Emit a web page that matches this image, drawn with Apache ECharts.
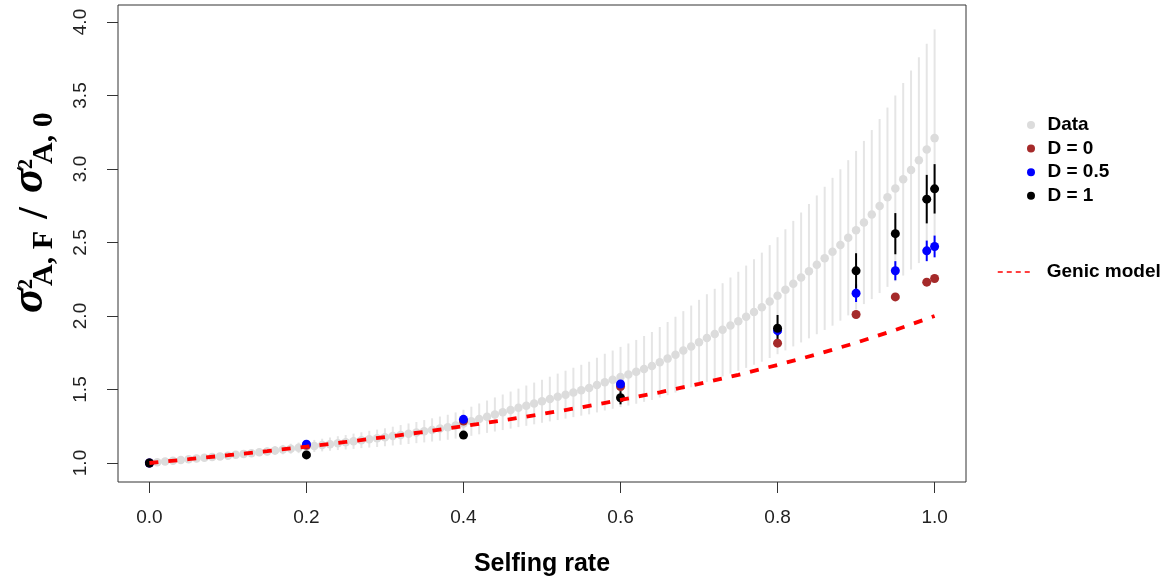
<!DOCTYPE html>
<html>
<head>
<meta charset="utf-8">
<script src="https://cdn.jsdelivr.net/npm/echarts@6/dist/echarts.min.js"></script>
<style>
  html, body { margin: 0; padding: 0; background: #fff; }
  #chart { width: 1172px; height: 583px; }
</style>
</head>
<body>
<div id="chart"></div>
<script>
// ---- data ----
const selfing = [0.00,0.01,0.02,0.03,0.04,0.05,0.06,0.07,0.08,0.09,
  0.10,0.11,0.12,0.13,0.14,0.15,0.16,0.17,0.18,0.19,
  0.20,0.21,0.22,0.23,0.24,0.25,0.26,0.27,0.28,0.29,
  0.30,0.31,0.32,0.33,0.34,0.35,0.36,0.37,0.38,0.39,
  0.40,0.41,0.42,0.43,0.44,0.45,0.46,0.47,0.48,0.49,
  0.50,0.51,0.52,0.53,0.54,0.55,0.56,0.57,0.58,0.59,
  0.60,0.61,0.62,0.63,0.64,0.65,0.66,0.67,0.68,0.69,
  0.70,0.71,0.72,0.73,0.74,0.75,0.76,0.77,0.78,0.79,
  0.80,0.81,0.82,0.83,0.84,0.85,0.86,0.87,0.88,0.89,
  0.90,0.91,0.92,0.93,0.94,0.95,0.96,0.97,0.98,0.99,
  1.00];
const dataMean = [1.000,1.005,1.010,1.015,1.020,1.025,1.030,1.035,1.040,1.045,
  1.050,1.056,1.062,1.067,1.073,1.079,1.085,1.091,1.097,1.103,
  1.110,1.116,1.122,1.128,1.135,1.141,1.148,1.155,1.162,1.168,
  1.175,1.183,1.191,1.199,1.207,1.216,1.225,1.234,1.243,1.255,
  1.268,1.284,1.300,1.315,1.330,1.345,1.360,1.375,1.390,1.405,
  1.420,1.435,1.450,1.465,1.480,1.495,1.510,1.530,1.550,1.567,
  1.585,1.602,1.620,1.640,1.660,1.685,1.710,1.737,1.765,1.793,
  1.822,1.850,1.878,1.906,1.935,1.964,1.995,2.027,2.060,2.098,
  2.138,2.178,2.220,2.262,2.305,2.348,2.392,2.437,2.483,2.532,
  2.583,2.636,2.690,2.748,2.808,2.868,2.930,2.993,3.060,3.132,
  3.210];
const dataErr = [0.000,0.002,0.004,0.005,0.007,0.009,0.011,0.012,0.014,0.016,
  0.018,0.020,0.022,0.023,0.026,0.028,0.030,0.032,0.034,0.036,
  0.039,0.041,0.043,0.045,0.047,0.049,0.052,0.054,0.057,0.059,
  0.061,0.064,0.067,0.070,0.072,0.076,0.079,0.082,0.085,0.089,
  0.094,0.099,0.105,0.110,0.116,0.121,0.126,0.131,0.137,0.142,
  0.147,0.152,0.158,0.163,0.168,0.173,0.179,0.186,0.193,0.198,
  0.205,0.211,0.217,0.224,0.231,0.240,0.249,0.258,0.268,0.278,
  0.288,0.298,0.307,0.317,0.327,0.337,0.348,0.359,0.371,0.384,
  0.398,0.412,0.427,0.442,0.457,0.472,0.487,0.503,0.515,0.528,
  0.540,0.555,0.575,0.592,0.610,0.632,0.655,0.677,0.700,0.720,
  0.740];

const modelS = [0.0, 0.2, 0.4, 0.6, 0.8, 0.9, 0.95, 0.99, 1.0];
const d0Mean  = [1.000, 1.120, 1.285, 1.520, 1.815, 2.010, 2.130, 2.230, 2.255];
const d0Err   = [0.000, 0.010, 0.010, 0.020, 0.020, 0.020, 0.020, 0.020, 0.020];
const d05Mean = [1.000, 1.128, 1.297, 1.537, 1.900, 2.155, 2.308, 2.443, 2.473];
const d05Err  = [0.000, 0.010, 0.010, 0.030, 0.035, 0.060, 0.065, 0.070, 0.074];
const d1Mean  = [1.000, 1.055, 1.190, 1.444, 1.917, 2.307, 2.560, 2.795, 2.865];
const d1Err   = [0.000, 0.010, 0.010, 0.045, 0.090, 0.120, 0.140, 0.165, 0.168];

const genicS = [0.00,0.05,0.10,0.15,0.20,0.25,0.30,0.35,0.40,0.45,0.50,
  0.55,0.60,0.65,0.70,0.75,0.80,0.85,0.90,0.95,1.00];
const genicVal = [1.000,1.026,1.053,1.081,1.111,1.143,1.176,1.212,1.250,1.290,1.333,
  1.379,1.429,1.481,1.538,1.600,1.667,1.739,1.818,1.905,2.000];

const xTicks = [0.0, 0.2, 0.4, 0.6, 0.8, 1.0];
const yTicks = [1.0, 1.5, 2.0, 2.5, 3.0, 3.5, 4.0];
const legendNames = ['Data', 'D = 0', 'D = 0.5', 'D = 1'];
const genicName = 'Genic model';
const xTitle = 'Selfing rate';

// ---- helpers ----
const SANS = '"Liberation Sans", Arial, sans-serif';
const SERIF = '"Liberation Serif", "Times New Roman", serif';

function pts(xs, ys) { return xs.map((x, i) => [x, ys[i]]); }
function bars(xs, ys, es) { return xs.map((x, i) => [x, ys[i] - es[i], ys[i] + es[i]]); }
function barSeries(name, data, color, width) {
  return {
    name: name, type: 'custom', data: data, silent: true,
    renderItem: function (params, api) {
      const a = api.coord([api.value(0), api.value(1)]);
      const b = api.coord([api.value(0), api.value(2)]);
      return { type: 'line', shape: { x1: a[0], y1: a[1], x2: b[0], y2: b[1] },
               style: { stroke: color, lineWidth: width } };
    }
  };
}
function dotSeries(name, data, color, size) {
  return { name: name, type: 'scatter', data: data, symbol: 'circle', symbolSize: size,
           itemStyle: { color: color, opacity: 1 }, emphasis: { disabled: true } };
}

const chart = echarts.init(document.getElementById('chart'), null, { renderer: 'canvas' });

const option = {
  animation: false,
  backgroundColor: '#ffffff',
  grid: { left: 118, top: 5, width: 848, height: 477, show: true,
          borderColor: '#333', borderWidth: 1, backgroundColor: 'transparent' },
  xAxis: {
    type: 'value', min: -0.04, max: 1.04,
    axisLine: { show: false, onZero: false },
    axisTick: { show: true, length: 11, customValues: xTicks, lineStyle: { color: '#333', width: 1 } },
    axisLabel: { customValues: xTicks, formatter: v => v.toFixed(1), margin: 26,
                 fontSize: 19, color: '#222', fontFamily: SANS },
    splitLine: { show: false },
    name: xTitle, nameLocation: 'middle', nameGap: 70,
    nameTextStyle: { fontSize: 25, fontWeight: 'bold', color: '#000', fontFamily: SANS }
  },
  yAxis: {
    type: 'value', min: 0.8707, max: 4.1156,
    axisLine: { show: false, onZero: false },
    axisTick: { show: true, length: 11, customValues: yTicks, lineStyle: { color: '#333', width: 1 } },
    axisLabel: { customValues: yTicks, formatter: v => v.toFixed(1), margin: 28, rotate: 90,
                 align: 'center', verticalAlign: 'bottom',
                 fontSize: 19, color: '#222', fontFamily: SANS },
    splitLine: { show: false }
  },
  legend: [
    {
      data: legendNames, orient: 'vertical', left: 1022, top: 110,
      itemWidth: 23, itemHeight: 8, itemGap: 3.6, icon: 'circle',
      selectedMode: false,
      textStyle: { fontSize: 19, fontWeight: 'bold', color: '#000', fontFamily: SANS, lineHeight: 20 }
    },
    {
      data: [genicName], orient: 'vertical', left: 992, top: 257,
      itemWidth: 36, itemHeight: 10, selectedMode: false,
      itemStyle: { opacity: 0 },
      lineStyle: { color: '#ff0000', width: 1.5, type: [5, 4], opacity: 1 },
      textStyle: { fontSize: 19, fontWeight: 'bold', color: '#000', fontFamily: SANS,
                   lineHeight: 20, padding: [0, 0, 0, 8] }
    }
  ],
  graphic: [
    {
      type: 'group', x: 38, y: 313, rotation: Math.PI / 2, silent: true,
      children: [
        { type: 'text', x: 0, y: -8, style: { text: 'σ', font: 'italic bold 46px ' + SERIF, fill: '#000', verticalAlign: 'middle', align: 'left' } },
        { type: 'text', x: 24, y: -11, style: { text: '2', font: 'bold 20px ' + SERIF, fill: '#000', verticalAlign: 'middle', align: 'left' } },
        { type: 'text', x: 27, y: 6.5, style: { text: 'A, F', font: 'bold 30px ' + SERIF, fill: '#000', verticalAlign: 'middle', align: 'left' } },
        { type: 'text', x: 100, y: -1.5, style: { text: '/', font: 'bold 42px ' + SERIF, fill: '#000', verticalAlign: 'middle', align: 'center' } },
        { type: 'text', x: 120, y: -8, style: { text: 'σ', font: 'italic bold 46px ' + SERIF, fill: '#000', verticalAlign: 'middle', align: 'left' } },
        { type: 'text', x: 144, y: -11, style: { text: '2', font: 'bold 20px ' + SERIF, fill: '#000', verticalAlign: 'middle', align: 'left' } },
        { type: 'text', x: 149, y: 6.5, style: { text: 'A, 0', font: 'bold 30px ' + SERIF, fill: '#000', verticalAlign: 'middle', align: 'left' } }
      ]
    }
  ],
  series: [
    barSeries('Data bars', bars(selfing, dataMean, dataErr), '#e5e5e5', 2),
    dotSeries('Data', pts(selfing, dataMean), '#dcdcdc', 8.5),
    {
      name: genicName, type: 'line', data: pts(genicS, genicVal), symbol: 'none', smooth: false,
      itemStyle: { color: '#ff0000' },
      lineStyle: { color: '#ff0000', width: 3.8, type: [9, 10], cap: 'butt' },
      emphasis: { disabled: true }
    },
    barSeries('D = 0 bars', bars(modelS, d0Mean, d0Err), '#a52a2a', 2),
    dotSeries('D = 0', pts(modelS, d0Mean), '#a52a2a', 9),
    barSeries('D = 0.5 bars', bars(modelS, d05Mean, d05Err), '#0000ff', 2),
    dotSeries('D = 0.5', pts(modelS, d05Mean), '#0000ff', 9),
    barSeries('D = 1 bars', bars(modelS, d1Mean, d1Err), '#000000', 2),
    dotSeries('D = 1', pts(modelS, d1Mean), '#000000', 9)
  ]
};
chart.setOption(option);
</script>
</body>
</html>
